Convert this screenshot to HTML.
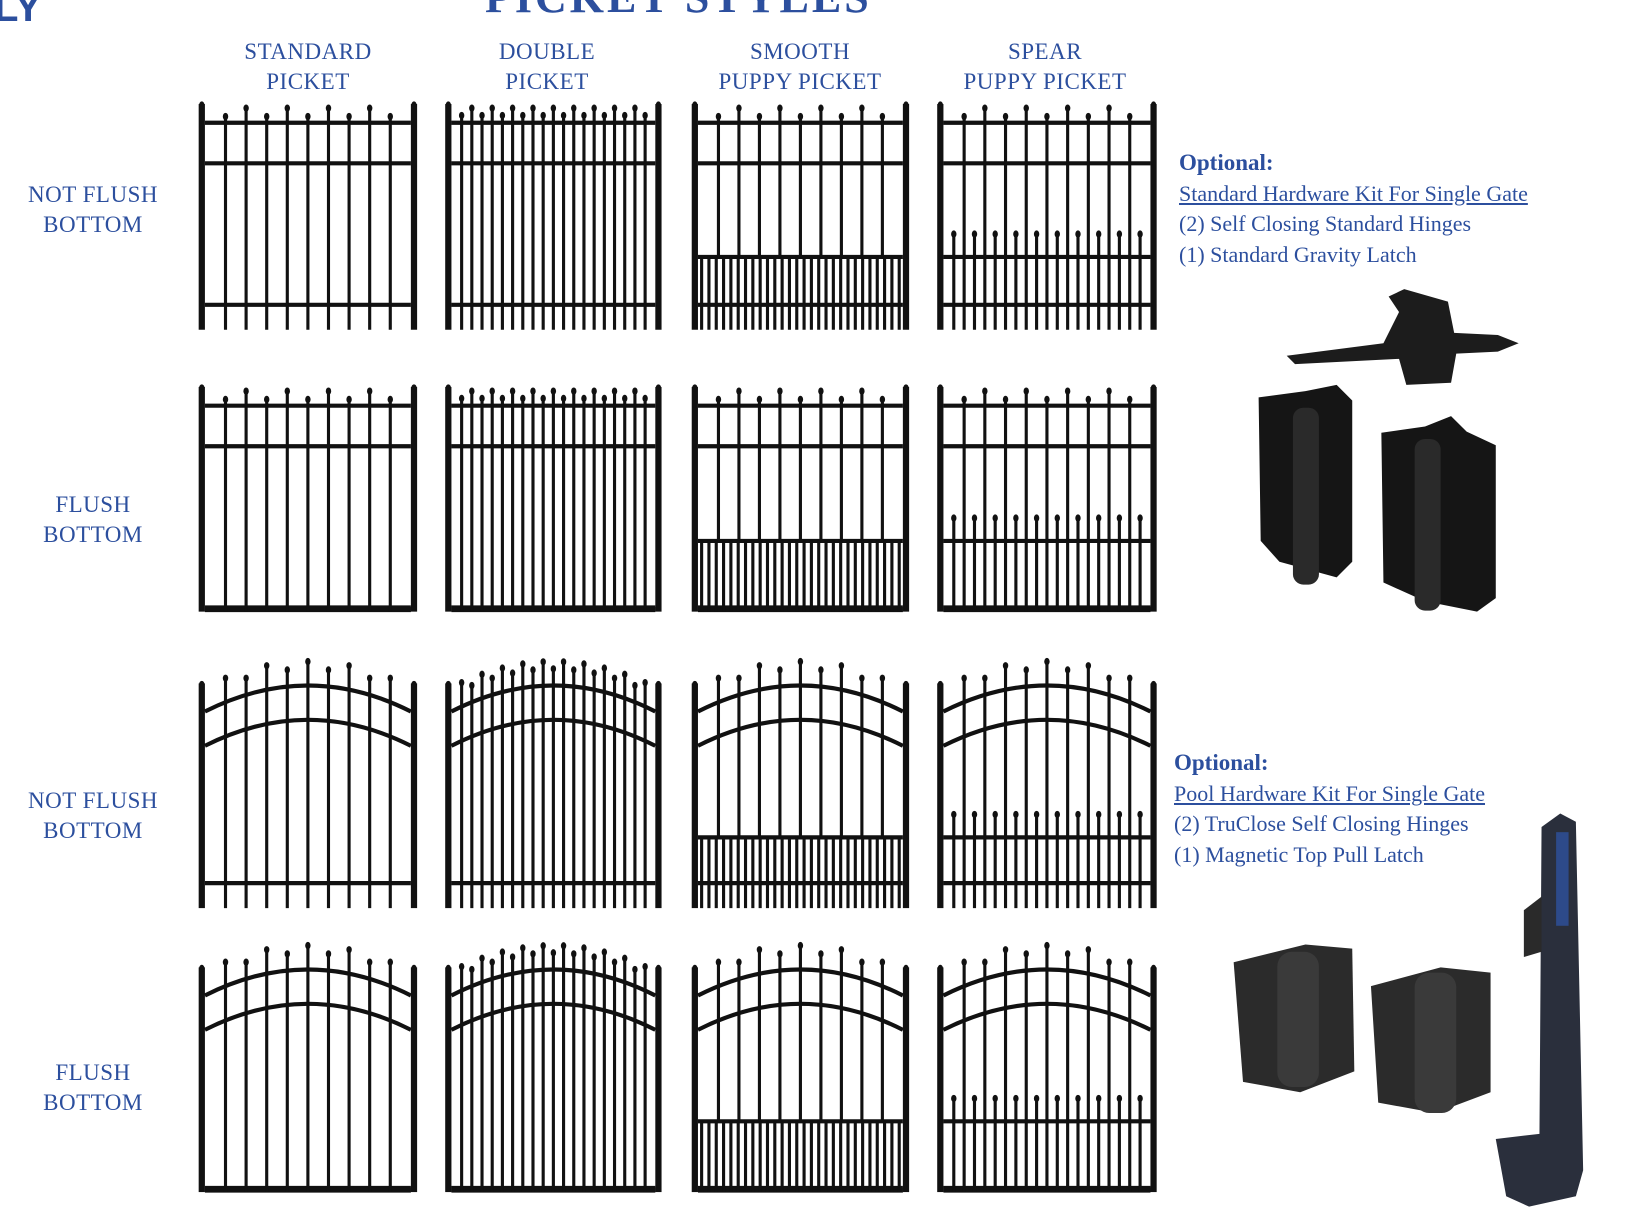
<!DOCTYPE html>
<html><head><meta charset="utf-8">
<style>
html,body{margin:0;padding:0;background:#fff;}
body{width:1631px;height:1216px;overflow:hidden;position:relative;}
svg{position:absolute;left:0;top:0;}
.t{position:absolute;font-family:"Liberation Serif",serif;color:#2c4f9e;white-space:nowrap;}
.h{font-size:23px;text-align:center;width:240px;line-height:30px;letter-spacing:0.5px;}
.r{font-size:23px;text-align:center;width:170px;line-height:30px;letter-spacing:0.5px;}
.o{font-size:22px;line-height:30.5px;}
.o b{font-size:23px;}
</style></head><body>
<svg id="s" width="1631" height="1216" viewBox="0 0 1568 1169" preserveAspectRatio="none"></svg>

<div class="t" style="left:485px;top:-28px;font-size:44px;font-weight:bold;letter-spacing:3px;">PICKET STYLES</div>
<div class="t" style="left:-6px;top:-14px;font-size:40px;font-weight:bold;font-family:'Liberation Sans',sans-serif;">LY</div>

<div class="t h" style="left:188px;top:37px;">STANDARD<br>PICKET</div>
<div class="t h" style="left:427px;top:37px;">DOUBLE<br>PICKET</div>
<div class="t h" style="left:680px;top:37px;">SMOOTH<br>PUPPY PICKET</div>
<div class="t h" style="left:925px;top:37px;">SPEAR<br>PUPPY PICKET</div>

<div class="t r" style="left:8px;top:180px;">NOT FLUSH<br>BOTTOM</div>
<div class="t r" style="left:8px;top:490px;">FLUSH<br>BOTTOM</div>
<div class="t r" style="left:8px;top:786px;">NOT FLUSH<br>BOTTOM</div>
<div class="t r" style="left:8px;top:1058px;">FLUSH<br>BOTTOM</div>

<div class="t o" style="left:1179px;top:148px;"><b>Optional:</b><br><u>Standard Hardware Kit For Single Gate</u><br>(2) Self Closing Standard Hinges<br>(1) Standard Gravity Latch</div>
<div class="t o" style="left:1174px;top:748px;"><b>Optional:</b><br><u>Pool Hardware Kit For Single Gate</u><br>(2) TruClose Self Closing Hinges<br>(1) Magnetic Top Pull Latch</div>

<script>
var s=document.getElementById('s'),out='';
function R(x,y,w,h){out+='<rect x="'+x+'" y="'+y+'" width="'+w+'" height="'+h+'" fill="#111"/>';}
function L(x1,y1,x2,y2,w){out+='<line x1="'+x1+'" y1="'+y1+'" x2="'+x2+'" y2="'+y2+'" stroke="#111" stroke-width="'+w+'"/>';}
function fin(x,y){out+='<ellipse cx="'+x+'" cy="'+y+'" rx="2.6" ry="3.5" fill="#111"/>';}
function gate(x0,x1,top,bot,o){
 var pw=6,inL=x0+pw,inR=x1-pw,w=inR-inL;
 var arch=o.arch,flush=o.flush;
 var n=o.dbl?19:9;
 var ay1=top+27,ay2=top+60,peak=25;
 function arcY(base,x){var t=(x-inL)/w;return base-peak*4*t*(1-t);}
 var brail=flush?bot-3:bot-24;
 if(arch){
  out+='<path d="M'+inL+' '+ay1+' Q'+((inL+inR)/2)+' '+(ay1-2*peak)+' '+inR+' '+ay1+'" stroke="#111" stroke-width="4" fill="none"/>';
  out+='<path d="M'+inL+' '+ay2+' Q'+((inL+inR)/2)+' '+(ay2-2*peak)+' '+inR+' '+ay2+'" stroke="#111" stroke-width="4" fill="none"/>';
 } else {
  L(inL,top+18,inR,top+18,4);L(inL,top+57,inR,top+57,4);
 }
 L(inL,brail,inR,brail,flush?6:4);
 if(flush) L(inL,bot-2,inR,bot-2,5);
 for(var i=0;i<n;i++){
  var x=inL+(i+1)*w/(n+1);
  var tp;
  if(arch){tp=arcY(ay1,x)-(i%2?16:23);} else {tp=top+(i%2?4:12);}
  if(o.dbl&&!arch)tp=top+(i%2?4:11);
  var pb=(o.puppy&&!o.spear)?o.puppyY:bot;
  L(x,tp,x,pb,3);fin(x,tp);
 }
 if(o.puppy){
  var py=o.puppyY;L(inL,py,inR,py,4);
  if(o.spear){
   for(var j=0;j<10;j++){var x=inL+(j+0.5)*w/10;L(x,py-22,x,bot,3);fin(x,py-22);}
  } else {
   var m=28;
   for(var j=0;j<m;j++){var x=inL+(j+0.5)*w/m;L(x,py,x,bot,3);}
  }
 }
 R(x0,top,pw,bot-top);R(x1-pw,top,pw,bot-top);
 fin(x0+3,top+1);fin(x1-3,top+1);
}
var cols=[[191,401],[428,636],[665,874],[901,1112]];
var rows=[{top:100,bot:317,arch:0,flush:0,py:247},{top:372,bot:588,arch:0,flush:1,py:520},
 {top:657,bot:873,arch:1,flush:0,py:805},{top:930,bot:1146,arch:1,flush:1,py:1078}];
rows.forEach(function(r){
 cols.forEach(function(c,k){
  gate(c[0],c[1],r.top,r.bot,{arch:r.arch,flush:r.flush,dbl:k==1,puppy:k>=2,spear:k==3,puppyY:r.py});
 });
});
out+='<path d="M1237 342 L1330 330 L1345 300 L1335 285 L1350 278 L1392 290 L1398 320 L1440 322 L1460 330 L1440 338 L1400 340 L1395 368 L1352 370 L1345 345 L1245 350 Z" fill="#1c1c1c"/>';
out+='<path d="M1210 382 L1255 376 L1285 370 L1300 385 L1300 540 L1285 555 L1230 540 L1212 520 Z" fill="#151515"/>';
out+='<rect x="1243" y="392" width="25" height="170" rx="10" fill="#2a2a2a"/>';
out+='<path d="M1328 416 L1370 410 L1395 400 L1410 415 L1438 428 L1438 575 L1420 588 L1370 578 L1330 560 Z" fill="#151515"/>';
out+='<rect x="1360" y="422" width="25" height="165" rx="10" fill="#2a2a2a"/>';
out+='<path d="M1186 925 L1255 908 L1300 912 L1302 1030 L1250 1050 L1195 1040 Z" fill="#2b2b2b"/>';
out+='<rect x="1228" y="915" width="40" height="130" rx="14" fill="#3a3a3a"/>';
out+='<path d="M1318 948 L1385 930 L1433 935 L1433 1050 L1380 1070 L1325 1060 Z" fill="#2b2b2b"/>';
out+='<rect x="1360" y="935" width="40" height="135" rx="14" fill="#3a3a3a"/>';
out+='<path d="M1482 795 L1500 782 L1515 790 L1522 1125 L1515 1150 L1470 1160 L1448 1150 L1438 1095 L1480 1090 Z" fill="#2a2f3c"/>';
out+='<path d="M1465 875 L1482 862 L1482 915 L1465 920 Z" fill="#2a2a2a"/>';
out+='<rect x="1496" y="800" width="12" height="90" fill="#2d4a8a"/>';
s.innerHTML=out;
</script>
</body></html>
